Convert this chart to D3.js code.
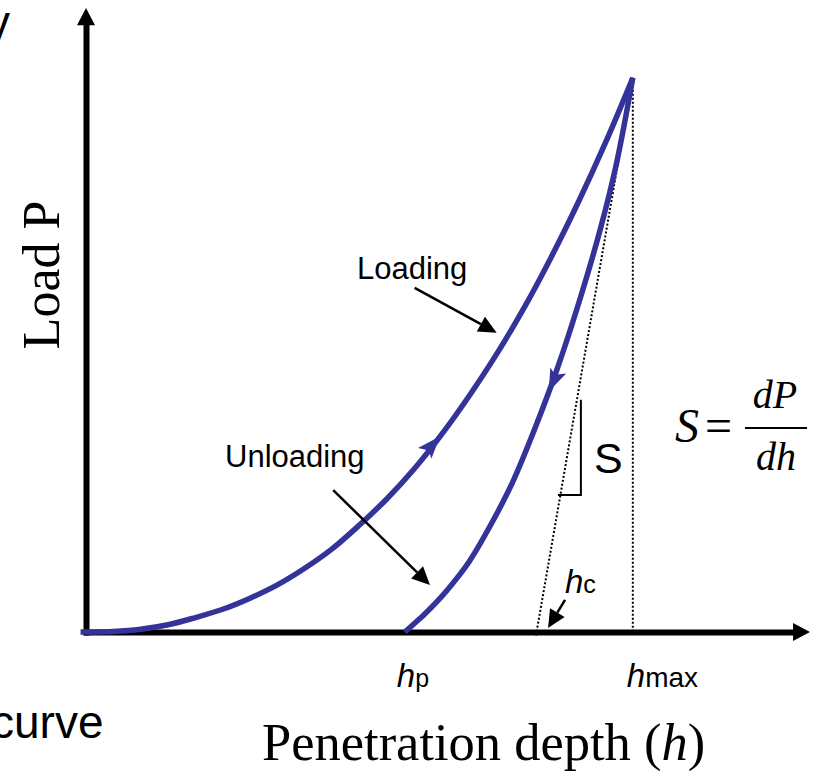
<!DOCTYPE html>
<html>
<head>
<meta charset="utf-8">
<script src="https://cdn.jsdelivr.net/npm/d3@7"></script>
<style>
  html, body { margin: 0; padding: 0; background: #fff; overflow: hidden; }
  svg { display: block; }
</style>
</head>
<body>
<svg id="chart" width="814" height="772"></svg>
<script>
// Load–displacement curve of an indentation test (schematic units: h_max = 100, P_max = 100)
const loadingDepth   = [-1, 0, 5, 10, 15, 20, 25, 30, 35, 40, 45, 50, 55, 60, 65, 70, 75, 80, 85, 90, 95, 100];
const loadingLoad    = [0, 0, 0.1, 0.5, 1.3, 2.6, 4.1, 6.1, 8.5, 11.5, 15, 19.3, 24, 29.4, 35.6, 42.5, 50, 58.3, 67.5, 77.5, 88.3, 100];
const unloadingDepth = [58.3, 60, 62, 64, 66, 70, 74, 78, 82, 86, 90, 94, 97, 100];
const unloadingLoad  = [0, 1.5, 3.3, 5.3, 7.5, 12.6, 19.3, 27, 36.5, 47, 59, 72.5, 84.5, 100];

const hMax = 100;        // maximum penetration depth
const pMax = 100;        // maximum load
const hResidual = 58.3;  // final (plastic) depth h_p
const hIntercept = 82.4; // where the unloading tangent meets the depth axis

const branchLabels = ["Loading", "Unloading"];
const axisTitles = ["Penetration depth (", "h", ")", "Load P"];

const svg = d3.select("#chart");
const blue = "#333399";
const sans = "'Liberation Sans', Arial, sans-serif";
const serif = "'Liberation Serif', 'Times New Roman', serif";

const x = d3.scaleLinear().domain([0, 132.4]).range([86, 810]);
const y = d3.scaleLinear().domain([0, 112.6]).range([632, 8]);

// ---- axes (no ticks, arrow-tipped) ----
const xAxisScale = x.copy().domain([0, 129.5]).range([x(0), x(129.5)]);
const yAxisScale = y.copy().domain([0, 109.8]).range([y(0), y(109.8)]);

const gx = svg.append("g").attr("transform", `translate(0,${y(0)})`)
  .call(d3.axisBottom(xAxisScale).tickValues([]).tickSizeOuter(0));
const gy = svg.append("g").attr("transform", `translate(${x(0)},0)`)
  .call(d3.axisLeft(yAxisScale).tickValues([]).tickSizeOuter(0));
[gx, gy].forEach(g => g.select(".domain")
  .attr("stroke", "#000").attr("stroke-width", 6).attr("stroke-linecap", "square"));

svg.append("path")
  .attr("d", `M${x(132.4)},${y(0)} L${x(129.3)},${y(0) - 9} L${x(129.3)},${y(0) + 9} Z`)
  .attr("fill", "#000");
svg.append("path")
  .attr("d", `M${x(0)},${y(112.6)} L${x(0) - 9},${y(109.5)} L${x(0) + 9},${y(109.5)} Z`)
  .attr("fill", "#000");

// ---- construction lines ----
const dotted = (pts) => svg.append("path")
  .attr("d", d3.line().x(d => x(d[0])).y(d => y(d[1]))(pts))
  .attr("fill", "none").attr("stroke", "#000")
  .attr("stroke-width", 2).attr("stroke-dasharray", "2,2");

const stiffness = pMax / (hMax - hIntercept);
dotted([[hMax, pMax], [hIntercept - 0.9 / stiffness, -0.9]]);
dotted([[hMax, pMax], [hMax, 0]]);

// slope triangle next to the tangent
svg.append("path")
  .attr("d", d3.line().x(d => x(d[0])).y(d => y(d[1]))([[90.5, 41.9], [90.5, 24.7], [86.3, 24.7]]))
  .attr("fill", "none").attr("stroke", "#000").attr("stroke-width", 2);

// ---- curves ----
const line = d3.line().x(d => x(d[0])).y(d => y(d[1])).curve(d3.curveCatmullRom.alpha(0.5));
const loading = d3.zip(loadingDepth, loadingLoad);
const unloading = d3.zip(unloadingDepth, unloadingLoad);

[loading, unloading].forEach(pts => svg.append("path")
  .attr("d", line(pts))
  .attr("fill", "none").attr("stroke", blue)
  .attr("stroke-width", 5.5).attr("stroke-linejoin", "round"));

// direction arrowheads along each branch
function curveArrow(depths, loads, h, forward) {
  const p = d3.scaleLinear().domain(depths).range(loads);
  const x0 = x(h), y0 = y(p(h));
  const dx = x(h + 0.5) - x(h - 0.5), dy = y(p(h + 0.5)) - y(p(h - 0.5));
  let a = Math.atan2(dy, dx) * 180 / Math.PI;
  if (!forward) a += 180;
  svg.append("path")
    .attr("d", "M12,0 L-11,-10 L-6,0 L-11,7 Z")
    .attr("fill", blue)
    .attr("transform", `translate(${x0},${y0}) rotate(${a})`);
}
curveArrow(loadingDepth, loadingLoad, 63.4, true);
curveArrow(unloadingDepth, unloadingLoad, 85.4, false);

// ---- annotation arrows ----
function pointer(from, to) {
  const x1 = x(from[0]), y1 = y(from[1]), x2 = x(to[0]), y2 = y(to[1]);
  const a = Math.atan2(y2 - y1, x2 - x1);
  const len = 18, half = 8.5;
  const bx = x2 - len * Math.cos(a), by = y2 - len * Math.sin(a);
  svg.append("line").attr("x1", x1).attr("y1", y1).attr("x2", bx).attr("y2", by)
    .attr("stroke", "#000").attr("stroke-width", 2.5);
  svg.append("path")
    .attr("d", `M${x2},${y2} L${bx - half * Math.sin(a)},${by + half * Math.cos(a)} L${bx + half * Math.sin(a)},${by - half * Math.cos(a)} Z`)
    .attr("fill", "#000");
}
pointer([60.1, 62.1], [75.1, 54.0]);
pointer([45.2, 25.6], [62.9, 8.5]);
pointer([87.6, 5.8], [84.5, 0.7]);

// ---- text ----
svg.append("text").attr("x", 357).attr("y", 279)
  .attr("font-family", sans).attr("font-size", 31).text(branchLabels[0]);
svg.append("text").attr("x", 225).attr("y", 467)
  .attr("font-family", sans).attr("font-size", 31).text(branchLabels[1]);
svg.append("text").attr("x", 594).attr("y", 473)
  .attr("font-family", sans).attr("font-size", 43).text("S");

function hLabel(px, py, sub, subSize) {
  const t = svg.append("text").attr("x", px).attr("y", py).attr("font-family", sans);
  t.append("tspan").attr("font-size", 33).attr("font-style", "italic").text("h");
  t.append("tspan").attr("font-size", subSize).text(sub);
}
hLabel(x(hResidual) - 8, 687, "p", 25);
hLabel(x(hMax) - 6, 687, "max", 28);
hLabel(565, 593, "c", 25);

// stiffness definition
svg.append("text").attr("x", 675).attr("y", 442)
  .attr("font-family", serif).attr("font-size", 48)
  .call(t => {
    t.append("tspan").attr("font-style", "italic").text("S");
    t.append("tspan").attr("dx", 6).text("=");
  });
svg.append("line").attr("x1", 745).attr("x2", 807).attr("y1", 428).attr("y2", 428)
  .attr("stroke", "#000").attr("stroke-width", 2);
svg.append("text").attr("x", 775).attr("y", 408).attr("text-anchor", "middle")
  .attr("font-family", serif).attr("font-size", 40).attr("font-style", "italic").text("dP");
svg.append("text").attr("x", 776).attr("y", 470).attr("text-anchor", "middle")
  .attr("font-family", serif).attr("font-size", 40).attr("font-style", "italic").text("dh");

// axis titles
svg.append("text").attr("x", 262).attr("y", 760)
  .attr("font-family", serif).attr("font-size", 52.5)
  .call(t => {
    t.append("tspan").text(axisTitles[0]);
    t.append("tspan").attr("font-style", "italic").text(axisTitles[1]);
    t.append("tspan").text(axisTitles[2]);
  });
svg.append("text")
  .attr("transform", `translate(59,275) rotate(-90)`)
  .attr("text-anchor", "middle")
  .attr("font-family", serif).attr("font-size", 52).text(axisTitles[3]);

// fragments of surrounding slide text
svg.append("text").attr("x", -13).attr("y", 38)
  .attr("font-family", sans).attr("font-size", 46).text("y");
svg.append("text").attr("x", -9).attr("y", 738)
  .attr("font-family", sans).attr("font-size", 46).text("curve");
</script>
</body>
</html>
